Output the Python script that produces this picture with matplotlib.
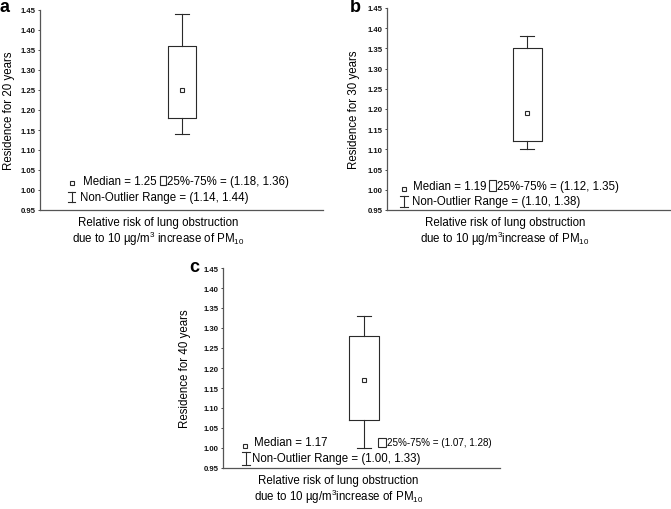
import numpy as np
import matplotlib.pyplot as plt
from matplotlib.patches import Rectangle

plt.rcParams['font.family'] = ['Liberation Sans', 'DejaVu Sans']
plt.rcParams['mathtext.fontset'] = 'custom'
plt.rcParams['mathtext.rm'] = 'Liberation Sans'
plt.rcParams['mathtext.it'] = 'Liberation Sans:italic'

# data
panel_letters = ['a', 'b', 'c']
years = [20, 30, 40]
medians = [1.25, 1.19, 1.17]
q1 = [1.18, 1.12, 1.07]
q3 = [1.36, 1.35, 1.28]
whis_lo = [1.14, 1.10, 1.00]
whis_hi = [1.44, 1.38, 1.33]
yticks = [0.95, 1.00, 1.05, 1.10, 1.15, 1.20, 1.25, 1.30, 1.35, 1.40, 1.45]

C = '#2a2a2a'
FS = 8.3

fig = plt.figure(figsize=(6.71, 5.10), dpi=100)

# layout (pixel based)
W, H = 671, 510
boxes_px = [(40, 11, 323, 211), (387, 9, 670, 211), (223, 269, 500, 469)]
box_pos = [0.501, 0.496, 0.509]
box_w = [0.10, 0.104, 0.106]
ylab_x = [-0.088, -0.095, -0.116]
letters_px = [(5, 8), (355, 8), (194, 267)]
line2 = ['due to 10 µg/m$^{3}$ increase of PM$_{10}$',
         'due to 10 µg/m$^{3}$increase of PM$_{10}$',
         'due to 10 µg/m$^{3}$increase of PM$_{10}$']
leg = [
    dict(sq=(0.112, 0.135), med=(0.152, 0.147), box=(0.424, 0.125, 0.022, 0.045),
         q=(0.449, 0.147), qfs=FS, ib=(0.112, 0.0415, 0.0915), no=(0.141, 0.063)),
    dict(sq=(0.060, 0.104), med=(0.091, 0.120), box=(0.362, 0.0955, 0.023, 0.055),
         q=(0.388, 0.120), qfs=FS, ib=(0.060, 0.013, 0.068), no=(0.087, 0.043)),
    dict(sq=(0.079, 0.108), med=(0.112, 0.128), box=(0.561, 0.1035, 0.028, 0.0465),
         q=(0.592, 0.128), qfs=FS * 0.86, ib=(0.083, 0.015, 0.078), no=(0.1035, 0.0485)),
]

for i in range(3):
    x0, y0, x1, y1 = boxes_px[i]
    ax = fig.add_axes([x0 / W, 1 - y1 / H, (x1 - x0) / W, (y1 - y0) / H])
    stats = [dict(med=medians[i], q1=q1[i], q3=q3[i], whislo=whis_lo[i],
                  whishi=whis_hi[i], mean=medians[i], fliers=[])]
    ax.bxp(stats, positions=[box_pos[i]], widths=[box_w[i]], capwidths=[box_w[i] * 0.48],
           showmeans=True, showfliers=False,
           boxprops=dict(color=C, linewidth=0.8),
           whiskerprops=dict(color=C, linewidth=0.8),
           capprops=dict(color=C, linewidth=0.8),
           medianprops=dict(visible=False),
           meanprops=dict(marker='s', markersize=3, markerfacecolor='white',
                          markeredgecolor=C, markeredgewidth=0.8))
    ax.set_xlim(0, 1)
    ax.set_ylim(0.95, 1.45)
    ax.set_yticks(yticks)
    ax.set_yticklabels([f'{v:.2f}' for v in yticks], fontsize=5.6, fontweight='bold')
    ax.set_xticks([])
    ax.tick_params(axis='y', length=1.5, width=0.6, pad=1.5, colors=C, labelcolor='#111111')
    for s in ['top', 'right']:
        ax.spines[s].set_visible(False)
    for s in ['left', 'bottom']:
        ax.spines[s].set_color('#555555')
        ax.spines[s].set_linewidth(0.9)
    ax.set_ylabel(f'Residence for {years[i]} years', fontsize=FS)
    ax.yaxis.set_label_coords(ylab_x[i], 0.5)

    # x label
    ax.text(0.417, -0.058, 'Relative risk of lung obstruction', transform=ax.transAxes,
            ha='center', va='center', fontsize=FS)
    ax.text(0.417, -0.14, line2[i], transform=ax.transAxes,
            ha='center', va='center', fontsize=FS)

    # legend
    L = leg[i]
    ax.plot([L['sq'][0]], [L['sq'][1]], marker='s', markersize=3, markerfacecolor='white',
            markeredgecolor=C, markeredgewidth=0.8, transform=ax.transAxes, clip_on=False)
    ax.text(L['med'][0], L['med'][1], f'Median = {medians[i]:.2f}', transform=ax.transAxes,
            ha='left', va='center', fontsize=FS)
    bx, by, bw, bh = L['box']
    ax.add_patch(Rectangle((bx, by), bw, bh, transform=ax.transAxes, fill=False,
                           edgecolor=C, linewidth=0.8, clip_on=False))
    ax.text(L['q'][0], L['q'][1], f'25%-75% = ({q1[i]:.2f}, {q3[i]:.2f})',
            transform=ax.transAxes, ha='left', va='center', fontsize=L['qfs'])
    ix, iy0, iy1 = L['ib']
    hw = 0.013
    ax.plot([ix, ix], [iy0, iy1], color=C, lw=0.8, transform=ax.transAxes, clip_on=False)
    ax.plot([ix - hw, ix + hw], [iy0, iy0], color=C, lw=0.8, transform=ax.transAxes, clip_on=False)
    ax.plot([ix - hw, ix + hw], [iy1, iy1], color=C, lw=0.8, transform=ax.transAxes, clip_on=False)
    ax.text(L['no'][0], L['no'][1], f'Non-Outlier Range = ({whis_lo[i]:.2f}, {whis_hi[i]:.2f})',
            transform=ax.transAxes, ha='left', va='center', fontsize=FS)

    lx, ly = letters_px[i]
    fig.text(lx / W, 1 - ly / H, panel_letters[i], fontsize=13, fontweight='bold',
             ha='center', va='center')

fig.savefig('out.png', dpi=100)
